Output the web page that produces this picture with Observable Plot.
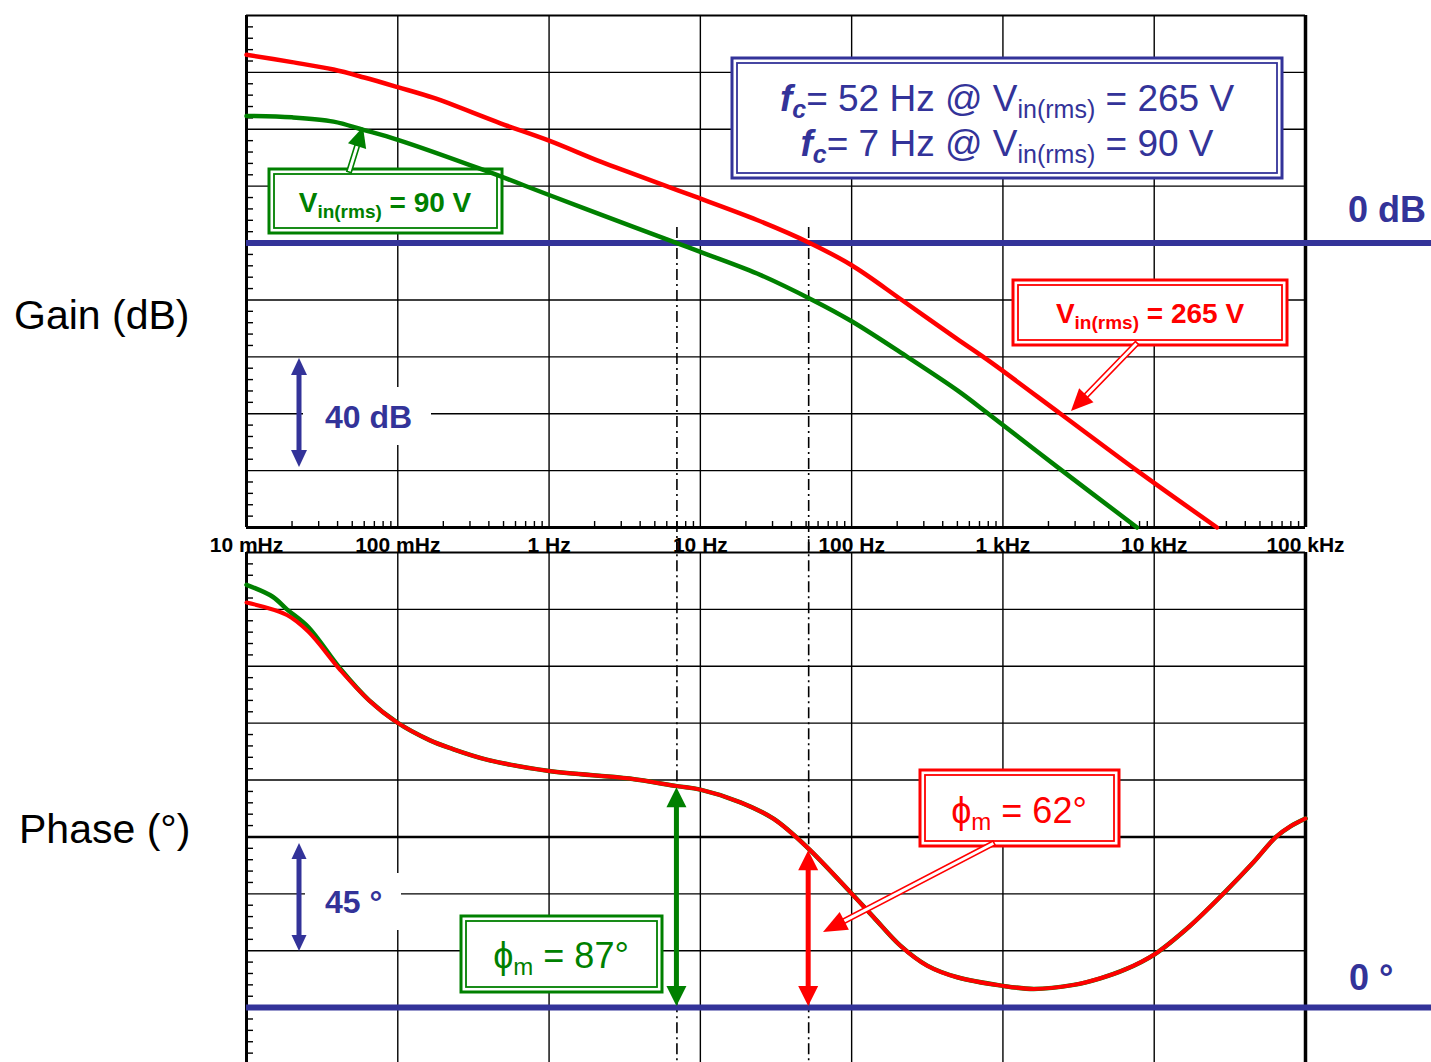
<!DOCTYPE html>
<html>
<head>
<meta charset="utf-8">
<script src="https://cdn.jsdelivr.net/npm/d3@7"></script>
<script src="https://cdn.jsdelivr.net/npm/@observablehq/plot@0.6"></script>
<style>
html, body { margin: 0; padding: 0; background: #fff; }
#chart { position: relative; width: 1431px; height: 1062px; overflow: hidden; background: #fff; }
#chart > svg { position: absolute; left: 0; overflow: visible; max-width: none; }
text, tspan { white-space: pre; }
</style>
</head>
<body>
<div id="chart"></div>
<script>
// ---------- data ----------
const decades = [0.01, 0.1, 1, 10, 100, 1000, 10000, 100000];
const decadeLabels = ["10 mHz", "100 mHz", "1 Hz", "10 Hz", "100 Hz", "1 kHz", "10 kHz", "100 kHz"];
const gainTicks = [-100, -80, -60, -40, -20, 0, 20, 40, 60, 80];
const phaseTicks = [-22.5, 0, 22.5, 45, 67.5, 90, 112.5, 135, 157.5, 180];

// Gain, Vin(rms) = 265 V
const gainFreq265 = [0.01, 0.02, 0.0376, 0.06, 0.1, 0.173, 0.477, 1, 2.19, 3.61, 8.6, 23.7, 52, 100, 217, 494, 826, 2400, 7700, 26000];
const gain265 = [66.2, 63.6, 61, 58.2, 54.8, 51, 42.1, 36, 28.6, 24.3, 16.9, 8.1, 0.2, -7.8, -20.2, -33.6, -41.8, -60, -80, -100];
// Gain, Vin(rms) = 90 V
const gainFreq90 = [0.01, 0.02, 0.0376, 0.0593, 0.1, 0.368, 1, 3.61, 7, 10, 23.7, 55, 100, 233, 500, 800, 2460, 7700];
const gain90 = [44.7, 44.2, 42.7, 39.8, 36.3, 25.7, 16.9, 5.7, 0, -3.1, -10.7, -20, -27.5, -40, -51.8, -60, -80, -100];

// Phase margin curves (degrees)
const phaseFreq265 = [0.01, 0.0185, 0.0256, 0.0417, 0.0644, 0.1, 0.162, 0.225, 0.387, 1, 3.4, 7, 10, 18.4, 30.6, 50.8, 98.2, 140, 210, 316, 499, 977, 1600, 2940, 4410, 6500, 10000, 17000, 29100, 45300, 63800, 80000, 100000];
const phase265 = [160.2, 155.3, 148.7, 133.5, 121.6, 112.6, 105.8, 102.5, 98.1, 93.6, 90.6, 87.6, 86.2, 81.2, 74.6, 63.4, 45.6, 35.7, 24.5, 16.6, 12, 8.7, 7.4, 9, 11.6, 15.2, 21, 32, 45.5, 57.5, 67.5, 71.8, 74.8];
const phaseFreq90 = [0.01, 0.0149, 0.0185, 0.0256, 0.0417, 0.0644, 0.1, 0.162, 0.225, 0.387, 1, 3.4, 7, 10, 18.4, 30.6, 50.8, 98.2, 140, 210, 316, 499, 977, 1600, 2940, 4410, 6500, 10000, 17000, 29100, 45300, 63800, 80000, 100000];
const phase90 = [167.2, 162.5, 157.5, 150.5, 134, 121.6, 112.6, 105.8, 102.5, 98.1, 93.6, 90.6, 87.6, 86.2, 81.2, 74.6, 63.4, 45.6, 35.7, 24.5, 16.6, 12, 8.7, 7.4, 9, 11.6, 15.2, 21, 32, 45.5, 57.5, 67.5, 71.8, 74.8];

// crossover frequencies and phase margins
const fcValues = [52, 7];      // Hz : 265 V, 90 V
const pmValues = [62, 87];     // deg: 265 V, 90 V

// ---------- styles ----------
const BLUE = "#333399", RED = "#ff0000", GREEN = "#008000";
const FONT = "'Liberation Sans', Arial, Helvetica, sans-serif";
const W = 1431, ML = 246, MR = 126;
const TOP_H = 552, BOT_TOP = 552, BOT_H = 512;

const gain265Data = gainFreq265.map((f, i) => ({f, v: gain265[i]}));
const gain90Data = gainFreq90.map((f, i) => ({f, v: gain90[i]}));
const phase265Data = phaseFreq265.map((f, i) => ({f, v: phase265[i]}));
const phase90Data = phaseFreq90.map((f, i) => ({f, v: phase90[i]}));

const minorFreqs = d3.scaleLog().domain([0.01, 1e5]).ticks()
  .filter(f => Math.abs(Math.log10(f) - Math.round(Math.log10(f))) > 1e-6);
const gainMinor = d3.range(-100, 80, 4).filter(v => v % 20 !== 0);
const phaseMinor = d3.range(0, 45).map(i => -22.5 + i * 4.5).filter((v, i) => i % 5 !== 0);

// ---------- drawing helpers ----------
function box(g, x0, y0, x1, y1, color) {
  g.append("rect").attr("x", x0).attr("y", y0).attr("width", x1 - x0).attr("height", y1 - y0)
    .attr("fill", "#fff").attr("stroke", color).attr("stroke-width", 3);
  g.append("rect").attr("x", x0 + 5).attr("y", y0 + 5).attr("width", x1 - x0 - 10).attr("height", y1 - y0 - 10)
    .attr("fill", "none").attr("stroke", color).attr("stroke-width", 1.8);
}
function arrowHead(g, px, py, ux, uy, L, Wd, color) {
  const bx = px - ux * L, by = py - uy * L, nx = -uy, ny = ux;
  g.append("path")
    .attr("d", `M${px},${py}L${bx + nx * Wd / 2},${by + ny * Wd / 2}L${bx - nx * Wd / 2},${by - ny * Wd / 2}Z`)
    .attr("fill", color);
}
function callout(g, tx, ty, px, py, color, L, Wd, gap) {
  const dx = px - tx, dy = py - ty, len = Math.hypot(dx, dy), ux = dx / len, uy = dy / len, nx = -uy, ny = ux;
  const bx = px - ux * (L - 1), by = py - uy * (L - 1);
  g.append("path")
    .attr("d", `M${tx + nx * gap / 2},${ty + ny * gap / 2}L${bx + nx * gap / 2},${by + ny * gap / 2}L${bx - nx * gap / 2},${by - ny * gap / 2}L${tx - nx * gap / 2},${ty - ny * gap / 2}Z`)
    .attr("fill", "#fff").attr("stroke", color).attr("stroke-width", 1.6);
  arrowHead(g, px, py, ux, uy, L, Wd, color);
}
function dblArrow(g, x, y0, y1, color, sw, L, Wd) {
  g.append("line").attr("x1", x).attr("x2", x).attr("y1", y0 + L - 1).attr("y2", y1 - L + 1)
    .attr("stroke", color).attr("stroke-width", sw);
  arrowHead(g, x, y0, 0, -1, L, Wd, color);
  arrowHead(g, x, y1, 0, 1, L, Wd, color);
}
function rich(g, x, y, size, color, weight, anchor, parts) {
  const t = g.append("text").attr("x", x).attr("y", y).attr("font-size", size).attr("fill", color)
    .attr("font-weight", weight).attr("text-anchor", anchor);
  let cur = 0;
  for (const p of parts) {
    const s = p.sub ? Math.round(size * 0.2) : 0;
    const ts = t.append("tspan").attr("dy", s - cur).text(p.t);
    cur = s;
    if (p.sub) ts.attr("font-size", Math.round(size * 0.68));
    if (p.it) ts.attr("font-style", "italic").attr("font-weight", "bold");
  }
  return t;
}
function label(g, x, y, size, weight, color, str) {
  return g.append("text").attr("x", x).attr("y", y).attr("font-size", size).attr("font-weight", weight)
    .attr("fill", color).attr("text-anchor", "start").text(str);
}
function whiteRect(g, x0, y0, x1, y1) {
  g.append("rect").attr("x", x0).attr("y", y0).attr("width", x1 - x0).attr("height", y1 - y0).attr("fill", "#fff");
}

// ---------- top (gain) annotations ----------
function gainUnder() {
  const g = d3.create("svg:g").attr("font-family", FONT);
  box(g, 732, 58, 1282, 178, BLUE);
  rich(g, 1007, 111, 37, BLUE, "normal", "middle", [
    {t: "f", it: true}, {t: "c", it: true, sub: true}, {t: "= 52 Hz @ V"}, {t: "in(rms)", sub: true}, {t: " = 265 V"}]);
  rich(g, 1007, 156, 37, BLUE, "normal", "middle", [
    {t: "f", it: true}, {t: "c", it: true, sub: true}, {t: "= 7 Hz @ V"}, {t: "in(rms)", sub: true}, {t: " = 90 V"}]);
  box(g, 269, 169, 502, 233, GREEN);
  rich(g, 385, 212, 28, GREEN, "bold", "middle", [{t: "V"}, {t: "in(rms)", sub: true}, {t: " = 90 V"}]);
  box(g, 1013, 280, 1287, 345, RED);
  rich(g, 1150, 323, 28, RED, "bold", "middle", [{t: "V"}, {t: "in(rms)", sub: true}, {t: " = 265 V"}]);
  whiteRect(g, 303, 387, 431, 445);
  label(g, 325, 428, 32, "bold", BLUE, "40 dB");
  label(g, 1348, 222, 36, "bold", BLUE, "0 dB");
  label(g, 14, 329, 41, "normal", "#000", "Gain (dB)");
  return g.node();
}
function gainOver() {
  const g = d3.create("svg:g");
  dblArrow(g, 299, 358, 467, BLUE, 5, 17, 16);
  callout(g, 349, 172, 363, 127, GREEN, 20, 19, 4.5);
  callout(g, 1137, 343, 1071, 411, RED, 22, 20, 4.5);
  return g.node();
}

// ---------- bottom (phase) annotations ----------
function phaseUnder() {
  const g = d3.create("svg:g").attr("font-family", FONT).attr("transform", `translate(0,${-BOT_TOP})`);
  whiteRect(g, 305, 873, 401, 930);
  label(g, 325, 913, 32, "bold", BLUE, "45 °");
  label(g, 1349, 990, 36, "bold", BLUE, "0 °");
  box(g, 461, 916, 662, 992, GREEN);
  rich(g, 561, 968, 36, GREEN, "normal", "middle", [{t: "ϕ"}, {t: "m", sub: true}, {t: " = 87°"}]);
  box(g, 920, 770, 1119, 846, RED);
  rich(g, 1019, 823, 36, RED, "normal", "middle", [{t: "ϕ"}, {t: "m", sub: true}, {t: " = 62°"}]);
  label(g, 19, 843, 41, "normal", "#000", "Phase (°)");
  return g.node();
}
function phaseOver(index, {x, y}) {
  const g = d3.create("svg:g");
  dblArrow(g, x(fcValues[1]), y(pmValues[1]), y(0) - 1, GREEN, 5, 20, 20);
  dblArrow(g, x(fcValues[0]), y(pmValues[0]), y(0) - 1, RED, 5, 20, 20);
  const l = g.append("g").attr("transform", `translate(0,${-BOT_TOP})`);
  dblArrow(l, 299, 843, 951, BLUE, 5, 16, 15);
  callout(l, 994, 843, 823, 932, RED, 24, 20, 4.5);
  return g.node();
}

// ---------- plots ----------
const xOpts = {type: "log", domain: [0.01, 1e5], axis: null};
const style = {fontFamily: FONT, overflow: "visible", background: "transparent"};
const dashDot = "11,4,2,4";

const gainPlot = Plot.plot({
  width: W, height: TOP_H, marginLeft: ML, marginRight: MR, marginTop: 15, marginBottom: 25,
  x: xOpts, y: {domain: [-100, 80], axis: null}, style,
  marks: [
    Plot.ruleY(gainTicks.filter(v => v > -100 && v < 80), {stroke: "#000", strokeWidth: 1.4}),
    Plot.ruleX(decades.slice(1, -1), {stroke: "#000", strokeWidth: 1.4}),
    Plot.tickY(gainMinor, {stroke: "#000", strokeWidth: 1.4, insetRight: W - ML - MR - 7}),
    Plot.tickX(minorFreqs, {stroke: "#000", strokeWidth: 1.4, insetTop: 512 - 6}),
    Plot.ruleY([80], {stroke: "#000", strokeWidth: 2}),
    Plot.ruleY([-100], {stroke: "#000", strokeWidth: 3}),
    Plot.ruleX([0.01], {stroke: "#000", strokeWidth: 3}),
    Plot.ruleX([1e5], {stroke: "#000", strokeWidth: 3.5}),
    Plot.ruleX(fcValues, {y1: 5.5, y2: -109, stroke: "#000", strokeWidth: 1.6, strokeDasharray: dashDot}),
    gainUnder,
    Plot.ruleY([0], {x1: 0.01, x2: 7e5, stroke: BLUE, strokeWidth: 6}),
    Plot.line(gain265Data, {x: "f", y: "v", stroke: RED, strokeWidth: 4.5, curve: "catmull-rom"}),
    Plot.line(gain90Data, {x: "f", y: "v", stroke: GREEN, strokeWidth: 4.5, curve: "catmull-rom"}),
    Plot.text(decades, {x: d => d, frameAnchor: "bottom", lineAnchor: "bottom", dy: 24,
      text: (d, i) => decadeLabels[i], fontWeight: "bold", fontSize: 21, fill: "#000"}),
    gainOver
  ]
});

const phasePlot = Plot.plot({
  width: W, height: BOT_H, marginLeft: ML, marginRight: MR, marginTop: 0, marginBottom: 0,
  x: xOpts, y: {domain: [-22.5, 180], axis: null}, style,
  marks: [
    Plot.ruleY(phaseTicks.filter(v => v > -22.5 && v < 180 && v !== 67.5), {stroke: "#000", strokeWidth: 1.4}),
    Plot.ruleX(decades.slice(1, -1), {stroke: "#000", strokeWidth: 1.4}),
    Plot.tickY(phaseMinor, {stroke: "#000", strokeWidth: 1.4, insetRight: W - ML - MR - 7}),
    Plot.ruleY([180], {stroke: "#000", strokeWidth: 2}),
    Plot.ruleY([67.5], {stroke: "#000", strokeWidth: 2.5}),
    Plot.ruleX([0.01], {stroke: "#000", strokeWidth: 3}),
    Plot.ruleX([1e5], {stroke: "#000", strokeWidth: 3.5}),
    Plot.ruleX(fcValues, {y1: 185, y2: -22.5, stroke: "#000", strokeWidth: 1.6, strokeDasharray: dashDot}),
    phaseUnder,
    Plot.ruleY([0], {x1: 0.01, x2: 7e5, stroke: BLUE, strokeWidth: 6}),
    Plot.line(phase90Data, {x: "f", y: "v", stroke: GREEN, strokeWidth: 4.5, curve: "catmull-rom"}),
    Plot.line(phase265Data, {x: "f", y: "v", stroke: RED, strokeWidth: 4, curve: "catmull-rom"}),
    phaseOver
  ]
});

const chart = document.getElementById("chart");
gainPlot.style.top = "0px";
phasePlot.style.top = BOT_TOP + "px";
chart.appendChild(gainPlot);
chart.appendChild(phasePlot);
</script>
</body>
</html>
